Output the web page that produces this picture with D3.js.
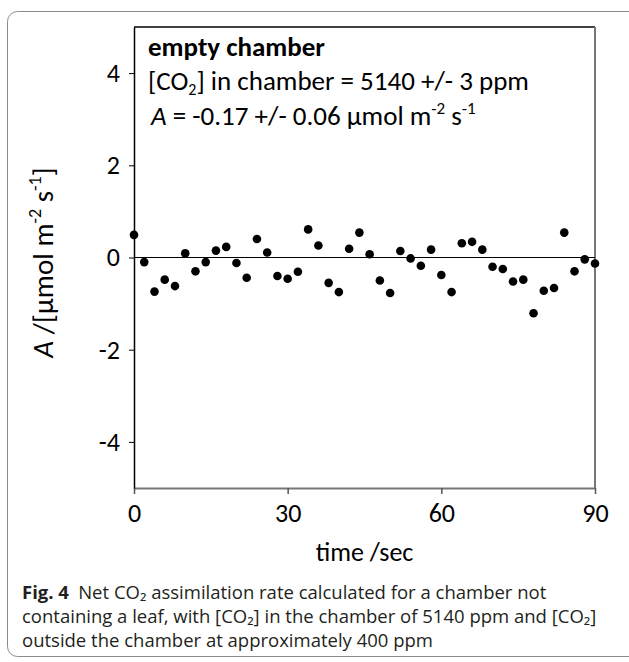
<!DOCTYPE html>
<html>
<head>
<meta charset="utf-8">
<script src="https://cdn.jsdelivr.net/npm/d3@7"></script>
<style>
  body { margin: 0; background: #fff; }
  svg { display: block; }
  .chartText { font-family: Carlito, Lato, "Liberation Sans", sans-serif; fill: #000; }
  .caption { font-family: "Open Sans", "Noto Sans", sans-serif; fill: #231f20; }
</style>
</head>
<body>
<div id="chart"></div>
<script>
// data
let times = [0, 2, 4, 6, 8, 10, 12, 14, 16, 18, 20, 22, 24, 26, 28, 30, 32, 34, 36, 38, 40, 42, 44,
             46, 48, 50, 52, 54, 56, 58, 60, 62, 64, 66, 68, 70, 72, 74, 76, 78, 80, 82, 84, 86, 88, 90];
let rates = [0.49, -0.10, -0.74, -0.48, -0.62, 0.09, -0.30, -0.10, 0.15, 0.23, -0.12, -0.44, 0.40,
             0.11, -0.40, -0.46, -0.31, 0.61, 0.26, -0.55, -0.75, 0.19, 0.54,
             0.07, -0.50, -0.77, 0.14, -0.02, -0.18, 0.17, -0.38, -0.75, 0.31, 0.34, 0.17, -0.20,
             -0.25, -0.52, -0.48, -1.21, -0.72, -0.66, 0.54, -0.30, -0.04, -0.13];
let xTicks = [0, 30, 60, 90];
let yTicks = [-4, -2, 0, 2, 4];

let svgWidth = 629;
let svgHeight = 662;
let margin = { top: 27, right: 34, bottom: 174, left: 134 };
let width = svgWidth - margin.left - margin.right;
let height = svgHeight - margin.top - margin.bottom;

let svg = d3.select("#chart").append("svg")
    .attr("width", svgWidth)
    .attr("height", svgHeight);

// outer rounded border of the figure panel
svg.append("rect")
    .attr("x", 7.5).attr("y", 11.5)
    .attr("width", 640).attr("height", 645)
    .attr("rx", 10).attr("ry", 10)
    .attr("fill", "none")
    .attr("stroke", "#8a8a8a")
    .attr("stroke-width", 1);

let chartGroup = svg.append("g")
    .attr("transform", `translate(${margin.left}, ${margin.top})`);

let xScale = d3.scaleLinear().domain([0, 90]).range([0, width]);
let yScale = d3.scaleLinear().domain([-5, 5]).range([height, 0]);

// frame: top black, right/bottom grey
chartGroup.append("line")
    .attr("x1", 0).attr("x2", width).attr("y1", 0).attr("y2", 0)
    .attr("stroke", "#000").attr("stroke-width", 1.5);
chartGroup.append("line")
    .attr("x1", width).attr("x2", width).attr("y1", 0).attr("y2", height)
    .attr("stroke", "#777").attr("stroke-width", 2);

// x axis
let xAxis = d3.axisBottom(xScale).tickValues(xTicks).tickSize(6).tickSizeOuter(0)
    .tickFormat(d => String(d));
let xg = chartGroup.append("g")
    .attr("transform", `translate(0, ${height})`)
    .call(xAxis);
xg.select(".domain").attr("stroke", "#777").attr("stroke-width", 2);
xg.selectAll(".tick line").attr("stroke", "#555").attr("stroke-width", 1.5);
xg.selectAll(".tick text")
    .attr("class", "chartText")
    .attr("font-size", 26)
    .attr("y", 16)
    .attr("dy", "0.71em");

// y axis
let yAxis = d3.axisLeft(yScale).tickValues(yTicks).tickSize(5).tickSizeOuter(0)
    .tickFormat(d => String(d));
let yg = chartGroup.append("g").call(yAxis);
yg.select(".domain").attr("stroke", "#000").attr("stroke-width", 1.5);
yg.selectAll(".tick line").attr("stroke", "#000");
yg.selectAll(".tick text")
    .attr("class", "chartText")
    .attr("font-size", 26)
    .attr("x", -14);

// zero line
chartGroup.append("line")
    .attr("x1", 0).attr("x2", width)
    .attr("y1", yScale(0)).attr("y2", yScale(0))
    .attr("stroke", "#000").attr("stroke-width", 1);

// points
chartGroup.selectAll("circle")
    .data(times)
    .enter()
    .append("circle")
    .attr("cx", d => xScale(d))
    .attr("cy", (d, i) => yScale(rates[i]))
    .attr("r", 4.3)
    .attr("fill", "#000");

// annotation text
chartGroup.append("text")
    .attr("class", "chartText")
    .attr("x", 14).attr("y", 29)
    .attr("font-size", 27).attr("font-weight", "bold")
    .text("empty chamber");

let t2 = chartGroup.append("text")
    .attr("class", "chartText")
    .attr("x", 14).attr("y", 63)
    .attr("font-size", 27);
t2.append("tspan").text("[CO");
t2.append("tspan").attr("font-size", 16).attr("dy", 4.5).text("2");
t2.append("tspan").attr("dy", -4.5).text("] in chamber = 5140 +/- 3 ppm");

let t3 = chartGroup.append("text")
    .attr("class", "chartText")
    .attr("x", 17).attr("y", 98)
    .attr("font-size", 27);
t3.append("tspan").attr("font-style", "italic").text("A");
t3.append("tspan").text(" = -0.17 +/- 0.06 \u00b5mol m");
t3.append("tspan").attr("font-size", 17).attr("dy", -11).text("-2");
t3.append("tspan").attr("dy", 11).text(" s");
t3.append("tspan").attr("font-size", 17).attr("dy", -11).text("-1");

// axis titles
let yTitle = svg.append("text")
    .attr("class", "chartText")
    .attr("transform", `translate(53, ${margin.top + yScale(0) + 5}) rotate(-90)`)
    .attr("text-anchor", "middle")
    .attr("font-size", 29);
yTitle.append("tspan").attr("font-style", "italic").text("A");
yTitle.append("tspan").text(" /[\u00b5mol m");
yTitle.append("tspan").attr("font-size", 18).attr("dy", -12).text("-2");
yTitle.append("tspan").attr("dy", 12).text(" s");
yTitle.append("tspan").attr("font-size", 18).attr("dy", -12).text("-1");
yTitle.append("tspan").attr("dy", 12).text("]");

svg.append("text")
    .attr("class", "chartText")
    .attr("x", margin.left + width / 2).attr("y", 561)
    .attr("text-anchor", "middle")
    .attr("font-size", 26)
    .text("time /sec");

// caption (subscript digits as characters)
let capLines = [599, 623, 647];
let c1 = svg.append("text").attr("class", "caption")
    .attr("x", 22).attr("y", capLines[0]).attr("font-size", 18.5);
c1.append("tspan").attr("font-weight", "bold").text("Fig. 4");
c1.append("tspan").text("\u2002Net CO\u2082 assimilation rate calculated for a chamber not");

svg.append("text").attr("class", "caption")
    .attr("x", 22).attr("y", capLines[1]).attr("font-size", 18.5)
    .text("containing a leaf, with [CO\u2082] in the chamber of 5140 ppm and [CO\u2082]");

svg.append("text").attr("class", "caption")
    .attr("x", 22).attr("y", capLines[2]).attr("font-size", 18.5)
    .text("outside the chamber at approximately 400 ppm");
</script>
</body>
</html>
